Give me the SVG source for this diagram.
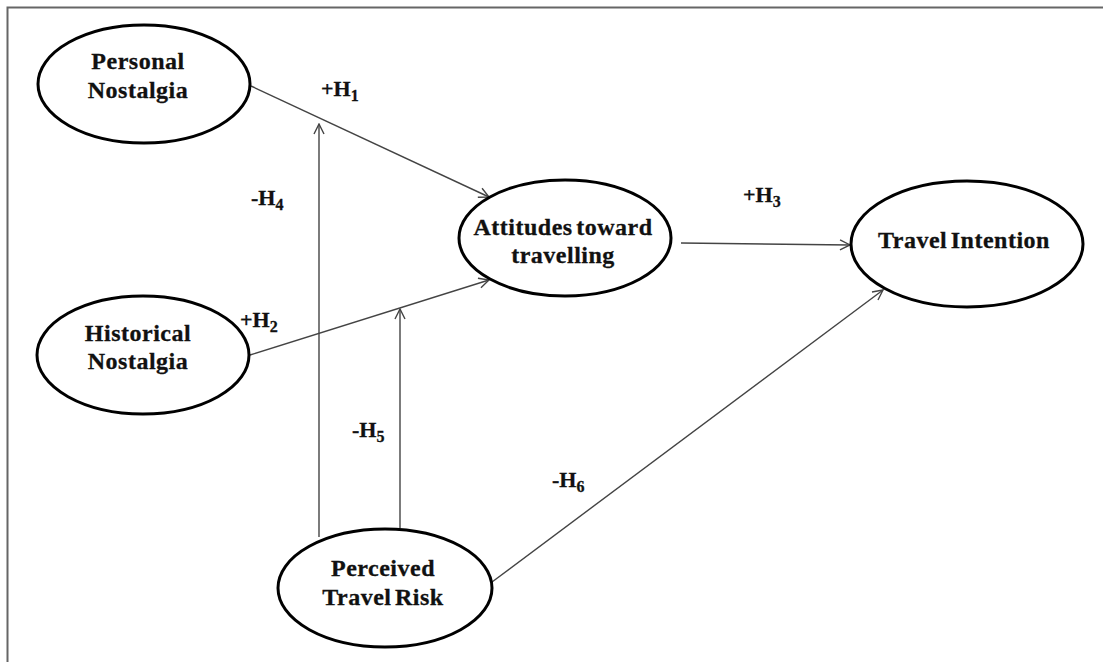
<svg xmlns="http://www.w3.org/2000/svg" width="1103" height="662" viewBox="0 0 1103 662">
<style>
.node ellipse{fill:#fff;stroke:#000;stroke-width:3}
.node text{font-family:"Liberation Serif","Times New Roman",serif;font-weight:bold;font-size:24px;fill:#111;text-anchor:middle;word-spacing:-3px;letter-spacing:0.5px;stroke:#111;stroke-width:0.3}
.lbl{font-family:"Liberation Serif","Times New Roman",serif;font-weight:bold;font-size:22px;fill:#111;stroke:#111;stroke-width:0.3}
.sub{font-size:16px}
#connectors line{stroke:#444;stroke-width:1.4;fill:none}
</style>
<defs>
<marker id="arr" viewBox="0 0 12 12" refX="11" refY="6" markerWidth="12" markerHeight="12" markerUnits="userSpaceOnUse" orient="auto">
<path d="M1,1 L11,6 L1,11" fill="none" stroke="#444" stroke-width="1.4"/>
</marker>
</defs>
<rect width="1103" height="662" fill="#fff"/>
<path d="M7.5,662 V7.5 H1103" fill="none" stroke="#666" stroke-width="2"/>
<g id="connectors">
<line x1="251" y1="86" x2="489" y2="197" marker-end="url(#arr)"/>
<line x1="250" y1="355" x2="489" y2="280" marker-end="url(#arr)"/>
<line x1="681" y1="243" x2="850" y2="245" marker-end="url(#arr)"/>
<line x1="319" y1="537" x2="319" y2="124" marker-end="url(#arr)"/>
<line x1="400" y1="528" x2="400" y2="309" marker-end="url(#arr)"/>
<line x1="492" y1="582" x2="883" y2="290" marker-end="url(#arr)"/>
</g>
<g id="labels">
<text class="lbl" x="321" y="96">+H<tspan class="sub" dy="5">1</tspan></text>
<text class="lbl" x="240" y="327">+H<tspan class="sub" dy="5">2</tspan></text>
<text class="lbl" x="743" y="202">+H<tspan class="sub" dy="5">3</tspan></text>
<text class="lbl" x="251" y="205">-H<tspan class="sub" dy="5">4</tspan></text>
<text class="lbl" x="352" y="437">-H<tspan class="sub" dy="5">5</tspan></text>
<text class="lbl" x="552" y="487">-H<tspan class="sub" dy="5">6</tspan></text>
</g>
<g id="personal-nostalgia" class="node">
<ellipse cx="144" cy="84" rx="106" ry="59"/>
<text x="138" y="69">Personal</text>
<text x="138" y="98">Nostalgia</text>
</g>
<g id="historical-nostalgia" class="node">
<ellipse cx="143" cy="355" rx="106" ry="59"/>
<text x="138" y="341">Historical</text>
<text x="138" y="369">Nostalgia</text>
</g>
<g id="attitudes" class="node">
<ellipse cx="565" cy="238" rx="106" ry="58"/>
<text x="563" y="235">Attitudes toward</text>
<text x="563" y="263">travelling</text>
</g>
<g id="travel-intention" class="node">
<ellipse cx="967" cy="244" rx="116" ry="63"/>
<text x="964" y="248">Travel Intention</text>
</g>
<g id="perceived-risk" class="node">
<ellipse cx="385" cy="588" rx="107" ry="59"/>
<text x="383" y="576">Perceived</text>
<text x="383" y="605">Travel Risk</text>
</g>
</svg>
